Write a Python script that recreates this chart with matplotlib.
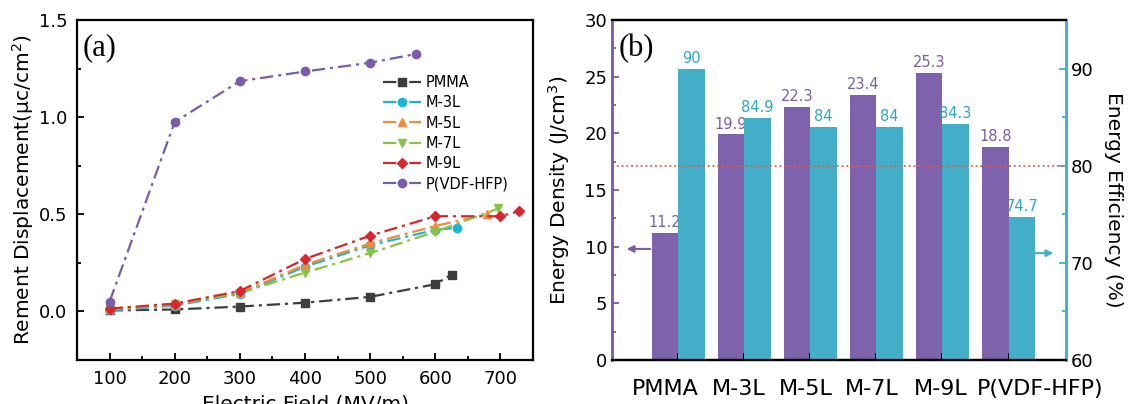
import numpy as np
import matplotlib
matplotlib.use('Agg')
import matplotlib.pyplot as plt
from matplotlib.ticker import MultipleLocator, FormatStrFormatter

plt.rcParams['font.family'] = ['DejaVu Sans']
plt.rcParams['mathtext.default'] = 'regular'

# ---- panel (a) data: remnant displacement vs field
pmma_x = [100, 200, 300, 400, 500, 600, 625]
pmma_y = [0.005, 0.01, 0.025, 0.045, 0.075, 0.14, 0.19]
m3_x = [100, 200, 300, 400, 500, 600, 633]
m3_y = [0.005, 0.03, 0.09, 0.23, 0.34, 0.42, 0.43]
m5_x = [100, 200, 300, 400, 500, 600, 680]
m5_y = [0.01, 0.035, 0.095, 0.24, 0.35, 0.44, 0.50]
m7_x = [100, 200, 300, 400, 500, 600, 697]
m7_y = [0.01, 0.04, 0.095, 0.20, 0.30, 0.41, 0.53]
m9_x = [100, 200, 300, 400, 500, 600, 700, 728]
m9_y = [0.015, 0.04, 0.105, 0.27, 0.39, 0.49, 0.49, 0.515]
pvdf_x = [100, 200, 300, 400, 500, 570]
pvdf_y = [0.05, 0.975, 1.185, 1.235, 1.28, 1.325]

# ---- panel (b) data
cats = ['PMMA', 'M-3L', 'M-5L', 'M-7L', 'M-9L', 'P(VDF-HFP)']
density = [11.2, 19.9, 22.3, 23.4, 25.3, 18.8]
efficiency = [90, 84.9, 84, 84, 84.3, 74.7]
dens_lbl = ['11.2', '19.9', '22.3', '23.4', '25.3', '18.8']
eff_lbl = ['90', '84.9', '84', '84', '84.3', '74.7']

purple = '#7b5ea7'
cyan = '#3fb0cb'

fig = plt.figure(figsize=(11.31, 4.04), dpi=100)

# ================= (a)
ax = fig.add_axes([77/1131, 44/404, 456/1131, 340/404])
series = [
    (pmma_x, pmma_y, 'PMMA', '#3d3d3d', 's'),
    (m3_x, m3_y, 'M-3L', '#1eb4da', 'o'),
    (m5_x, m5_y, 'M-5L', '#f58a3c', '^'),
    (m7_x, m7_y, 'M-7L', '#88c443', 'v'),
    (m9_x, m9_y, 'M-9L', '#d9262c', 'D'),
    (pvdf_x, pvdf_y, 'P(VDF-HFP)', '#7a5cad', 'o'),
]
for xs, ys, lab, c, m in series:
    ms = 5.5 if m == 'D' else 6
    ax.plot(xs, ys, ls=(0, (6, 2.2, 1.4, 2.2)), lw=1.6, color=c, marker=m,
            ms=ms, label=lab)

ax.set_xlim(50, 750)
ax.set_ylim(-0.25, 1.5)
ax.xaxis.set_major_locator(MultipleLocator(100))
ax.xaxis.set_minor_locator(MultipleLocator(50))
ax.yaxis.set_major_locator(MultipleLocator(0.5))
ax.yaxis.set_minor_locator(MultipleLocator(0.25))
ax.yaxis.set_major_formatter(FormatStrFormatter('%.1f'))
ax.tick_params(which='both', direction='in', top=False, right=False,
               labelsize=13, width=1.3)
ax.tick_params(which='major', length=5, pad=7)
ax.tick_params(which='minor', length=3)
for s in ax.spines.values():
    s.set_linewidth(1.6)
ax.set_ylabel('Rement Displacement(μc/cm$^2$)', fontsize=14.5)
ax.yaxis.set_label_coords(-0.09, 0.5)
ax.set_xlabel('Electric Field (MV/m)', fontsize=14.5, labelpad=5)
ax.text(0.013, 0.96, '(a)', transform=ax.transAxes, fontsize=22,
        family='Liberation Serif', va='top', ha='left')
ax.legend(loc='upper left', bbox_to_anchor=(0.672, 0.838), frameon=False,
          fontsize=10.5, handlelength=2.6, handletextpad=0.3, labelspacing=0.36,
          borderpad=0, borderaxespad=0)

# ================= (b)
bx = fig.add_axes([612/1131, 44/404, 454/1131, 340/404])
br = bx.twinx()
x = np.arange(1, len(cats) + 1)
w = 0.4
bx.bar(x - w/2, density, width=w, color='#7e63ac')
br.bar(x + w/2, np.array(efficiency) - 60, bottom=60, width=w, color='#42aec8')
for xi, v, t in zip(x, density, dens_lbl):
    bx.text(xi - w/2, v + 0.25, t, color=purple, fontsize=10.5, ha='center', va='bottom')
for xi, v, t in zip(x, efficiency, eff_lbl):
    br.text(xi + w/2, v + 0.3, t, color='#2aa8c6', fontsize=10.5, ha='center', va='bottom')
br.axhline(80, color='#f0553f', ls=':', lw=1.3)

bx.set_xlim(0.0, 6.87)
bx.set_ylim(0, 30)
br.set_ylim(60, 95)
bx.set_xticks(x)
bx.set_xticklabels([])
# category labels sit slightly off their ticks in the original
shifts = [-9, -4, -3, -3, -1, 23]
for xi, lab, dx in zip(x, cats, shifts):
    bx.annotate(lab, xy=(xi, 0), xycoords=('data', 'axes fraction'),
                xytext=(dx, -13.5), textcoords='offset points',
                ha='center', va='top', fontsize=16, annotation_clip=False)
bx.yaxis.set_major_locator(MultipleLocator(5))
bx.yaxis.set_minor_locator(MultipleLocator(2.5))
br.yaxis.set_major_locator(MultipleLocator(10))
br.yaxis.set_minor_locator(MultipleLocator(5))
bx.tick_params(axis='x', direction='in', length=5, width=1.3)
bx.tick_params(axis='y', which='both', direction='in', colors=purple,
               labelcolor='black', labelsize=13, width=1.3)
bx.tick_params(axis='y', which='minor', length=3)
bx.tick_params(axis='y', which='major', length=5)
br.tick_params(axis='y', which='both', direction='in', colors=cyan,
               labelcolor='black', labelsize=13, width=1.3)
br.tick_params(axis='y', which='minor', length=3)
br.tick_params(axis='y', which='major', length=5)
for a in (bx, br):
    a.spines['top'].set_linewidth(1.6)
    a.spines['bottom'].set_linewidth(1.6)
    a.spines['left'].set_color(purple)
    a.spines['left'].set_linewidth(1.8)
    a.spines['right'].set_color(cyan)
    a.spines['right'].set_linewidth(1.8)
bx.set_ylabel('Energy Density (J/cm$^3$)', fontsize=14.5)
bx.yaxis.set_label_coords(-0.088, 0.5)
br.set_ylabel('Energy Efficiency (%)', fontsize=14.5, rotation=270)
br.yaxis.set_label_coords(1.125, 0.47)

bx.annotate('', xy=(0.18, 9.8), xytext=(0.62, 9.8),
            arrowprops=dict(arrowstyle='-|>', color=purple, lw=1.5))
br.annotate('', xy=(6.72, 71), xytext=(6.3, 71),
            arrowprops=dict(arrowstyle='-|>', color=cyan, lw=1.5))
bx.text(0.015, 0.96, '(b)', transform=bx.transAxes, fontsize=22,
        family='Liberation Serif', va='top', ha='left')

fig.savefig('out.png', dpi=100)
